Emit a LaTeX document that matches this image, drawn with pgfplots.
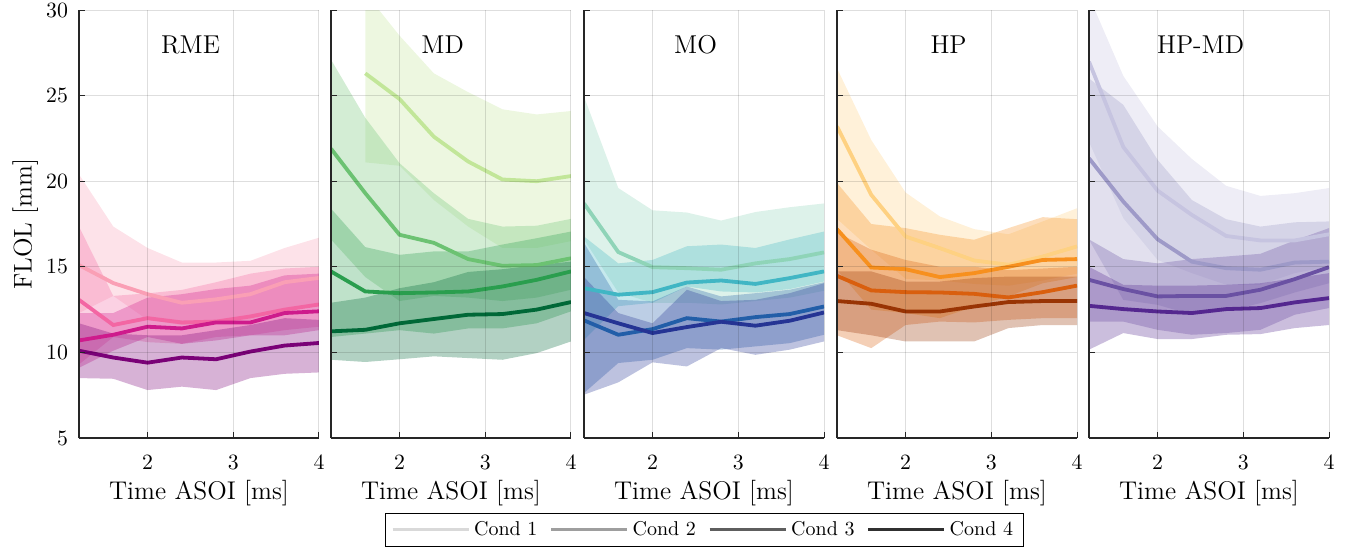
\documentclass[border=0pt]{standalone}
\usepackage{pgfplots}
\usepackage{pgfplotstable}
\pgfplotsset{compat=1.18}
\usepgfplotslibrary{fillbetween}

\definecolor{rme1}{HTML}{FA9FB5}
\definecolor{rme2}{HTML}{F366A3}
\definecolor{rme3}{HTML}{CE1B8C}
\definecolor{rme4}{HTML}{7A0177}
\definecolor{md1}{HTML}{C2E699}
\definecolor{md2}{HTML}{6CC272}
\definecolor{md3}{HTML}{2A9E4E}
\definecolor{md4}{HTML}{006837}
\definecolor{mo1}{HTML}{8FD4B8}
\definecolor{mo2}{HTML}{41B6C4}
\definecolor{mo3}{HTML}{225EA8}
\definecolor{mo4}{HTML}{253494}
\definecolor{hp1}{HTML}{FED182}
\definecolor{hp2}{HTML}{F7901E}
\definecolor{hp3}{HTML}{D95F0E}
\definecolor{hp4}{HTML}{993404}
\definecolor{pm1}{HTML}{C6C4E0}
\definecolor{pm2}{HTML}{9E9AC8}
\definecolor{pm3}{HTML}{6A51A3}
\definecolor{pm4}{HTML}{54278F}
\definecolor{leg1}{HTML}{D9D9D9}
\definecolor{leg2}{HTML}{9E9E9E}
\definecolor{leg3}{HTML}{5E5E5E}
\definecolor{leg4}{HTML}{303030}

% columns: mean / lower / upper for Cond 1..4
\pgfplotstableread{
x   m1    l1    h1    m2    l2    h2    m3    l3    h3    m4    l4    h4
1.2 15.1  12.3  20.4  13.07 9.3   17.35 10.7  9.1   12.3  10.1  8.5   11.7
1.6 14.05 13.3  17.35 11.6  10.9  13.3  11.03 10.1  12.3  9.7   8.46  11.1
2.0 13.4  11.9  16.1  12.0  10.6  13.45 11.5  10.9  13.2  9.4   7.8   11.0
2.4 12.9  11.6  15.25 11.75 10.5  13.65 11.4  10.5  13.4  9.7   8.0   11.0
2.8 13.1  11.7  15.25 11.8  10.9  14.1  11.75 10.7  13.7  9.6   7.8   11.3
3.2 13.4  11.9  15.35 12.1  11.0  14.6  11.75 11.0  13.9  10.05 8.5   11.6
3.6 14.1  12.5  16.1  12.5  11.3  14.9  12.3  11.0  14.5  10.4  8.75  12.0
4.0 14.35 12.7  16.7  12.8  11.5  15.0  12.4  11.3  14.6  10.55 8.83  11.9
}\rme

\pgfplotstableread{
x   m1    l1    h1    m2    l2    h2    m3    l3    h3    m4    l4    h4
1.2 nan   nan   nan   21.9  16.6  27.1  14.73 10.9  18.4  11.23 9.57  12.9
1.6 26.3  21.1  31.0  19.3  14.4  23.7  13.56 11.1  16.15 11.32 9.44  13.2
2.0 24.8  20.9  28.5  16.87 13.0  21.05 13.46 11.3  15.7  11.7  9.6   13.75
2.4 22.6  18.9  26.3  16.4  13.3  19.3  13.5  11.1  15.9  11.95 9.77  14.1
2.8 21.15 17.35 25.2  15.45 13.2  17.8  13.56 11.4  15.9  12.2  9.67  14.7
3.2 20.1  16.1  24.2  15.06 13.0  17.35 13.85 11.4  16.3  12.24 9.57  14.86
3.6 20.0  16.1  23.9  15.1  13.2  17.4  14.24 11.7  16.67 12.5  9.96  15.1
4.0 20.3  16.5  24.1  15.5  13.66 17.8  14.73 12.4  17.06 12.94 10.64 15.3
}\md

\pgfplotstableread{
x   m1    l1    h1    m2    l2    h2    m3    l3    h3    m4    l4    h4
1.2 18.7  16.6  24.94 13.75 10.74 16.77 11.87 7.63  16.4  12.3  7.53  14.4
1.6 15.86 13.5  19.6  13.37 12.7  15.2  11.03 9.38  13.07 11.7  8.25  12.3
2.0 14.98 12.9  18.3  13.52 12.9  15.4  11.36 9.57  12.98 11.13 9.42  11.7
2.4 14.92 12.9  18.17 14.08 13.85 16.2  12.0  10.25 13.85 11.48 9.18  13.66
2.8 14.83 12.8  17.7  14.2  13.56 16.3  11.8  10.16 13.27 11.79 10.25 13.0
3.2 15.2  13.0  18.2  14.0  13.5  16.1  12.06 10.35 13.46 11.56 9.86  13.07
3.6 15.45 13.2  18.48 14.34 13.7  16.6  12.24 10.54 13.66 11.85 10.16 13.46
4.0 15.84 13.6  18.7  14.73 14.14 17.06 12.68 11.03 14.1  12.33 10.64 14.04
}\mo

\pgfplotstableread{
x   m1    l1    h1    m2    l2    h2    m3    l3    h3    m4    l4    h4
1.2 23.2  17.8  26.6  17.2  14.82 19.9  14.47 11.0  17.0  13.0  11.3  14.73
1.6 19.2  16.0  22.4  14.96 12.5  17.5  13.62 10.25 16.0  12.84 11.0  14.73
2.0 16.77 14.3  19.34 14.86 12.3  17.26 13.52 11.6  15.4  12.39 10.64 14.14
2.4 16.09 14.2  17.94 14.4  12.0  16.87 13.5  11.8  15.0  12.39 10.64 14.14
2.8 15.37 14.0  17.2  14.63 12.68 16.58 13.42 11.75 15.0  12.68 10.64 14.34
3.2 15.12 13.9  16.9  15.0  13.27 17.26 13.21 11.9  14.8  12.94 11.42 14.43
3.6 15.6  14.2  17.65 15.4  14.04 17.9  13.52 12.0  14.9  13.0  11.6  14.43
4.0 16.19 14.6  18.42 15.45 14.4  17.78 13.9  12.0  15.0  13.0  11.6  14.43
}\hp

\pgfplotstableread{
x   m1    l1    h1    m2    l2    h2    m3    l3    h3    m4    l4    h4
1.2 26.98 22.3  30.8  21.34 16.58 26.0  14.24 11.8  16.6  12.72 10.16 15.0
1.6 22.0  17.84 26.15 18.81 13.07 24.46 13.7  11.8  15.45 12.53 11.13 13.95
2.0 19.45 15.4  23.2  16.61 12.78 21.25 13.27 11.32 15.2  12.39 10.78 13.9
2.4 18.03 14.63 21.3  15.3  12.2  18.9  13.3  11.03 15.45 12.3  10.78 13.9
2.8 16.8  13.95 19.73 14.92 12.4  17.78 13.3  11.13 15.6  12.53 11.03 13.95
3.2 16.54 13.95 19.14 14.83 12.88 17.35 13.66 11.32 15.76 12.59 11.07 14.04
3.6 16.54 14.63 19.3  15.25 13.5  17.6  14.28 12.2  16.54 12.92 11.42 14.34
4.0 16.9  15.0  19.6  15.3  14.04 17.65 14.98 12.59 17.26 13.17 11.6  14.63
}\hpmd

\newcommand{\band}[3]{%
  \addplot[name path=hi#2, draw=none, forget plot] table[x=x, y=h#2] {#1};
  \addplot[name path=lo#2, draw=none, forget plot] table[x=x, y=l#2] {#1};
  \addplot[fill=#3, fill opacity=0.3, draw=none, forget plot] fill between[of=hi#2 and lo#2];
}
\newcommand{\mean}[3]{%
  \addplot[color=#3, line width=1.9pt, forget plot] table[x=x, y=m#2] {#1};
}
\newcommand{\panel}[6]{%
  \band{#1}{1}{#2}\band{#1}{2}{#3}\band{#1}{3}{#4}\band{#1}{4}{#5}
  \mean{#1}{1}{#2}\mean{#1}{2}{#3}\mean{#1}{3}{#4}\mean{#1}{4}{#5}
  \node[font=\fontsize{12.9}{14}\selectfont] at (rel axis cs:0.465,0.918) {#6};
}

\pgfplotsset{
  flol/.style={
    scale only axis, width=120pt, height=214pt,
    xmin=1.2, xmax=4, ymin=5, ymax=30,
    xtick={2,3,4}, ytick={5,10,...,30},
    axis lines=left, axis line style={-, black!85, line width=0.6pt},
    tick align=inside, major tick length=3pt,
    tick style={black!85, line width=0.5pt},
    grid=major, grid style={black, opacity=0.13, line width=0.5pt},
    axis on top,
    /pgf/number format/assume math mode=true,
    tick label style={font=\fontsize{10.9}{12}\selectfont},
    xticklabel style={yshift=-5pt},
    yticklabel style={xshift=-2pt},
    xlabel={Time ASOI [ms]},
    xlabel style={font=\fontsize{12.8}{14}\selectfont,
      at={([yshift=-17.4pt]axis description cs:0.5,0)}, anchor=north},
  },
}

\begin{document}
\begin{tikzpicture}

\begin{axis}[flol, at={(0pt,0pt)},
  ylabel={FLOL [mm]},
  ylabel style={font=\fontsize{12.8}{14}\selectfont,
    at={([xshift=-17pt]axis description cs:0,0.5)}, anchor=south}]
\panel{\rme}{rme1}{rme2}{rme3}{rme4}{RME}
\end{axis}

\begin{axis}[flol, at={(126pt,0pt)}, yticklabels={}]
\panel{\md}{md1}{md2}{md3}{md4}{MD}
\end{axis}

\begin{axis}[flol, at={(252.5pt,0pt)}, yticklabels={},
  legend style={at={(0.5,-0.175)}, anchor=north, legend columns=4,
    draw=black, font=\fontsize{10}{11}\selectfont,
    /tikz/every even column/.append style={column sep=4pt}},
  legend image code/.code={\draw[#1, line width=1.6pt] (0pt,0pt) -- (38pt,0pt);}]
\panel{\mo}{mo1}{mo2}{mo3}{mo4}{MO}
\addlegendimage{color=leg1}\addlegendentry{Cond 1}
\addlegendimage{color=leg2}\addlegendentry{Cond 2}
\addlegendimage{color=leg3}\addlegendentry{Cond 3}
\addlegendimage{color=leg4}\addlegendentry{Cond 4}
\end{axis}

\begin{axis}[flol, at={(379pt,0pt)}, yticklabels={}]
\panel{\hp}{hp1}{hp2}{hp3}{hp4}{HP}
\end{axis}

\begin{axis}[flol, at={(505pt,0pt)}, yticklabels={}]
\panel{\hpmd}{pm1}{pm2}{pm3}{pm4}{HP-MD}
\end{axis}

\pgfresetboundingbox
\useasboundingbox (-39.5pt,-57pt) rectangle (635pt,219pt);
\end{tikzpicture}
\end{document}
